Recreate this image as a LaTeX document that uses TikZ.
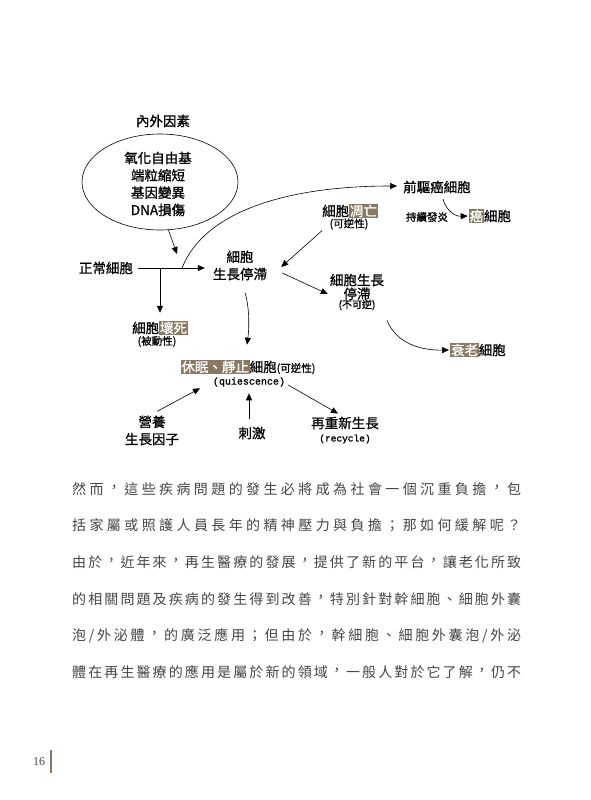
\documentclass[tikz,border=0pt]{standalone}
\usepackage{fontspec}
\setmainfont{Liberation Serif}
\newfontfamily\cjk{Noto Sans CJK TC}
\newfontfamily\dg[FakeBold=1]{Noto Sans CJK TC}
\newfontfamily\mono[FakeBold=1.2]{Liberation Mono}
\usetikzlibrary{arrows.meta,shapes.geometric,calc}
\definecolor{hlc}{RGB}{138,121,98}
\definecolor{bodygray}{RGB}{70,70,70}
\newcommand\hl[1]{{\setlength\fboxsep{0.8pt}\colorbox{hlc}{\textcolor{white}{#1}}}}
\newcommand\cm{\raisebox{1.8pt}{，}}
\makeatletter
\newcommand\spreadline[2]{\hbox to #1{\let\sp@first\relax\@tfor\sp@c:=#2\do{\sp@first\sp@c\def\sp@first{\hfill}}}}
\makeatother
\begin{document}
\begin{tikzpicture}[x=1pt,y=-1pt,
  lbl/.style={font=\dg\fontsize{13.5}{17.3}\selectfont, inner sep=0pt, align=center},
  sm/.style={font=\dg\fontsize{10.5}{12}\selectfont, inner sep=0pt},
  mo/.style={font=\mono\fontsize{10}{12}\selectfont, inner sep=0pt},
  arr/.style={-{Triangle[length=7pt,width=6pt]}, line width=0.6pt},
  body/.style={font=\cjk\fontsize{14}{16}\selectfont, text=bodygray, inner sep=0pt, anchor=west}]
\useasboundingbox[fill=white] (0,0) rectangle (591,800);

% diagram nodes
\node[lbl] (title) at (163,121) {內外因素};
\node[draw, ellipse, line width=0.6pt, minimum width=156pt, minimum height=96pt, inner sep=0pt] (ell) at (160,182) {};
\node[lbl] (elltxt) at (158,184) {氧化自由基\\端粒縮短\\基因變異\\DNA損傷};
\node[lbl] (normal) at (106,268) {正常細胞};
\node[lbl] (arrest) at (240,265.5) {細胞\\生長停滯};
\node[lbl] (necro) at (160,328) {細胞\hl{壞死}};
\node[sm] (passive) at (157,341.5) {(被動性)};
\node[lbl] (precan) at (437,187) {前驅癌細胞};
\node[sm] (inflam) at (427,217) {持續發炎};
\node[lbl] (cancer) at (490,216) {\hl{癌}細胞};
\node[lbl] (apop) at (350,211) {細胞\hl{凋亡}};
\node[sm] (apoprev) at (349,224) {(可逆性)};
\node[lbl, font=\dg\fontsize{13.5}{13.8}\selectfont] (irr) at (357,287) {細胞生長\\停滯};
\node[sm, font=\dg\fontsize{10}{11}\selectfont] (irrnote) at (357,305) {(不可逆)};
\node[lbl] (senes) at (478,350) {\hl{衰老}細胞};
\node[lbl] (quies) at (248,367) {\hl{休眠、靜止}細胞{\fontsize{10.5}{12}\selectfont(可逆性)}};
\node[mo] (quieseng) at (249,382) {(quiescence)};
\node[lbl] (nutr) at (152,430.5) {營養\\生長因子};
\node[lbl] (stim) at (252,433) {刺激};
\node[lbl] (regrow) at (345,423) {再重新生長};
\node[mo, font=\mono\fontsize{9.5}{11}\selectfont] (recyc) at (345,439) {(recycle)};

% connectors
\coordinate (c1) at (177,254);
\coordinate (b1) at (182,268);
\coordinate (b2) at (160,268);
\draw[arr] (ell.-80) -- (c1);
\draw[arr] ([xshift=5pt]normal.east) -- ($(normal.east -| arrest.west)+(-8,0)$);
\draw[arr] (b1) .. controls (205,210) and (290,186) .. ($(precan.west)+(-6,-1)$);
\draw[arr] (b2) -- ($(b2 |- necro.north)+(0,-8)$);
\draw[arr] ($(arrest.south)+(5,12)$) .. controls ($(arrest.south)+(10,29)$) and ($(arrest.south)+(9,49)$) .. ($(quies.north)+(-1,-15)$);
\draw[arr] ($(apoprev.south)+(-27,1)$) -- ($(arrest.east)+(14,1.5)$);
\draw[arr] ($(arrest.east)+(15,7.5)$) -- ($(irr.west)+(-2,7)$);
\draw[arr] ($(precan.south)+(6,5.5)$) .. controls ($(precan.south)+(9,17)$) and ($(precan.south)+(18,23)$) .. ($(cancer.west)+(-1,0)$);
\draw[arr] ($(irrnote.south)+(30,10)$) .. controls ($(irrnote.south)+(40,34)$) and ($(irrnote.south)+(65,40)$) .. ($(senes.west)+(-1,0)$);
\draw[arr] ($(nutr.north)+(5,-4)$) -- ($(quies.south)+(-48,14)$);
\draw[arr] ($(stim.north)+(-3,-8)$) -- ($(quies.south)+(1,19)$);
\draw[arr] ($(quieseng.east)+(3,3)$) -- ($(regrow.north)+(-7,-3)$);

% body text
\node[body] (l1) at (72,489) {\spreadline{449pt}{然而\cm 這些疾病問題的發生必將成為社會一個沉重負擔\cm 包}};
\node[body] (l2) at (72,525.6) {\spreadline{449pt}{括家屬或照護人員長年的精神壓力與負擔；那如何緩解呢？}};
\node[body] (l3) at (72,562.2) {\spreadline{449pt}{由於\cm 近年來\cm 再生醫療的發展\cm 提供了新的平台\cm 讓老化所致}};
\node[body] (l4) at (72,598.8) {\spreadline{449pt}{的相關問題及疾病的發生得到改善\cm 特別針對幹細胞、細胞外囊}};
\node[body] (l5) at (72,635.4) {\spreadline{449pt}{泡/外泌體\cm 的廣泛應用；但由於\cm 幹細胞、細胞外囊泡/外泌}};
\node[body] (l6) at (72,672) {\spreadline{449pt}{體在再生醫療的應用是屬於新的領域\cm 一般人對於它了解\cm 仍不}};

% page number
\node[font=\fontsize{12}{14}\selectfont, text=bodygray, inner sep=0pt] (pg) at (39,762) {16};
\coordinate (bar1) at (51,750);
\coordinate (bar2) at (51,773);
\draw[line width=1.2pt, hlc] (bar1) -- (bar2);
\end{tikzpicture}
\end{document}
